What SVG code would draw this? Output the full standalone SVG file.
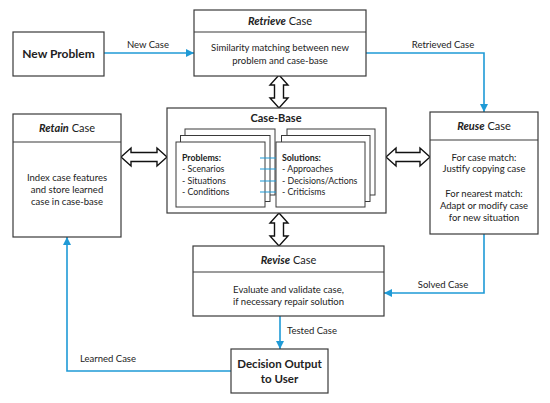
<svg xmlns="http://www.w3.org/2000/svg" width="550" height="403" viewBox="0 0 550 403">
<defs>
<style>
.box{fill:#fff;stroke:#3a3a3a;stroke-width:1.2}
.card{fill:#fff;stroke:#3a3a3a;stroke-width:1}
.t{font-family:Lato,"Liberation Sans",sans-serif;font-size:9.5px;fill:#222}
.s{font-size:8.8px}
.h{font-family:Lato,"Liberation Sans",sans-serif;font-size:11px;fill:#222}
.b{font-weight:bold}
.i{font-style:italic;font-weight:bold}
.c{text-anchor:middle}
.flow{fill:none;stroke:#1f9ad6;stroke-width:1.6}
.link{fill:none;stroke:#1f9ad6;stroke-width:1.2}
.dbl{fill:#fff;stroke:#111;stroke-width:1.4;stroke-linejoin:miter}
</style>
<marker id="ah" viewBox="0 0 10 10" refX="10" refY="5" markerWidth="5" markerHeight="5" orient="auto" markerUnits="strokeWidth">
<path d="M0,0 L10,5 L0,10 z" fill="#1f9ad6"/>
</marker>
</defs>

<g id="connectors">
<path class="flow" d="M104,53 H194" marker-end="url(#ah)"/>
<path class="flow" d="M366,53 H484 V112" marker-end="url(#ah)"/>
<path class="flow" d="M484,234 V293 H384" marker-end="url(#ah)"/>
<path class="flow" d="M280,316 V349" marker-end="url(#ah)"/>
<path class="flow" d="M231,371 H67 V237" marker-end="url(#ah)"/>
<text class="t c" x="148" y="48">New Case</text>
<text class="t c" x="443" y="48">Retrieved Case</text>
<text class="t c" x="443" y="288">Solved Case</text>
<text class="t" x="287" y="334">Tested Case</text>
<text class="t" x="80" y="362">Learned Case</text>
<polygon class="dbl" points="279,75 288,85 283.5,85 283.5,98 288,98 279,108 270,98 274.5,98 274.5,85 270,85"/>
<polygon class="dbl" points="279,213 288,223 283.5,223 283.5,236 288,236 279,246 270,236 274.5,236 274.5,223 270,223"/>
<polygon class="dbl" points="121,157 131,148 131,152.5 157,152.5 157,148 167,157 157,166 157,161.5 131,161.5 131,166"/>
<polygon class="dbl" points="386,157 396,148 396,152.5 420,152.5 420,148 430,157 420,166 420,161.5 396,161.5 396,166"/>
</g>

<g id="new-problem">
<rect class="box" x="13" y="32" width="91" height="44"/>
<text class="h b c" x="58.5" y="58" style="font-size:12px">New Problem</text>
</g>

<g id="retrieve">
<rect class="box" x="194" y="10" width="172" height="66"/>
<line class="box" x1="194" y1="32" x2="366" y2="32"/>
<text class="h c" x="280" y="25"><tspan class="i">Retrieve</tspan> Case</text>
<text class="t c" x="280" y="51">Similarity matching between new</text>
<text class="t c" x="280" y="64">problem and case-base</text>
</g>

<g id="retain">
<rect class="box" x="13" y="114" width="108" height="123"/>
<line class="box" x1="13" y1="142" x2="121" y2="142"/>
<text class="h c" x="67" y="132"><tspan class="i">Retain</tspan> Case</text>
<text class="t c" x="67" y="181">Index case features</text>
<text class="t c" x="67" y="193">and store learned</text>
<text class="t c" x="67" y="205">case in case-base</text>
</g>

<g id="case-base">
<rect class="box" x="167" y="108" width="219" height="105"/>
<text class="h b c" x="276" y="122">Case-Base</text>
<rect class="card" x="185" y="129" width="90" height="66"/>
<rect class="card" x="180.5" y="135.5" width="89.5" height="66"/>
<rect class="card" x="176" y="142" width="89" height="65"/>
<rect class="card" x="287" y="129" width="88" height="66"/>
<rect class="card" x="281.5" y="135.5" width="88.5" height="66"/>
<rect class="card" x="276" y="142" width="89" height="65"/>
<path class="link" d="M260,158 H276 M260,169 H276 M260,181 H276 M260,192 H276"/>
<text class="t s" x="182" y="161"><tspan class="b">Problems:</tspan></text>
<text class="t s" x="182" y="172">- Scenarios</text>
<text class="t s" x="182" y="184">- Situations</text>
<text class="t s" x="182" y="195">- Conditions</text>
<text class="t s" x="282" y="161"><tspan class="b">Solutions:</tspan></text>
<text class="t s" x="282" y="172">- Approaches</text>
<text class="t s" x="282" y="184">- Decisions/Actions</text>
<text class="t s" x="282" y="195">- Criticisms</text>
</g>

<g id="reuse">
<rect class="box" x="430" y="112" width="108" height="122"/>
<line class="box" x1="430" y1="140" x2="538" y2="140"/>
<text class="h c" x="484" y="130"><tspan class="i">Reuse</tspan> Case</text>
<text class="t c" x="484" y="161">For case match:</text>
<text class="t c" x="484" y="172">Justify copying case</text>
<text class="t c" x="484" y="197">For nearest match:</text>
<text class="t c" x="484" y="209">Adapt or modify case</text>
<text class="t c" x="484" y="221">for new situation</text>
</g>

<g id="revise">
<rect class="box" x="193" y="246" width="191" height="70"/>
<line class="box" x1="193" y1="272" x2="384" y2="272"/>
<text class="h c" x="288.5" y="264"><tspan class="i">Revise</tspan> Case</text>
<text class="t c" x="288.5" y="293">Evaluate and validate case,</text>
<text class="t c" x="288.5" y="305">if necessary repair solution</text>
</g>

<g id="decision">
<rect class="box" x="231" y="349" width="97" height="44"/>
<text class="h b c" x="279.5" y="368" style="font-size:11.5px">Decision Output</text>
<text class="h b c" x="279.5" y="383" style="font-size:11.5px">to User</text>
</g>
</svg>
